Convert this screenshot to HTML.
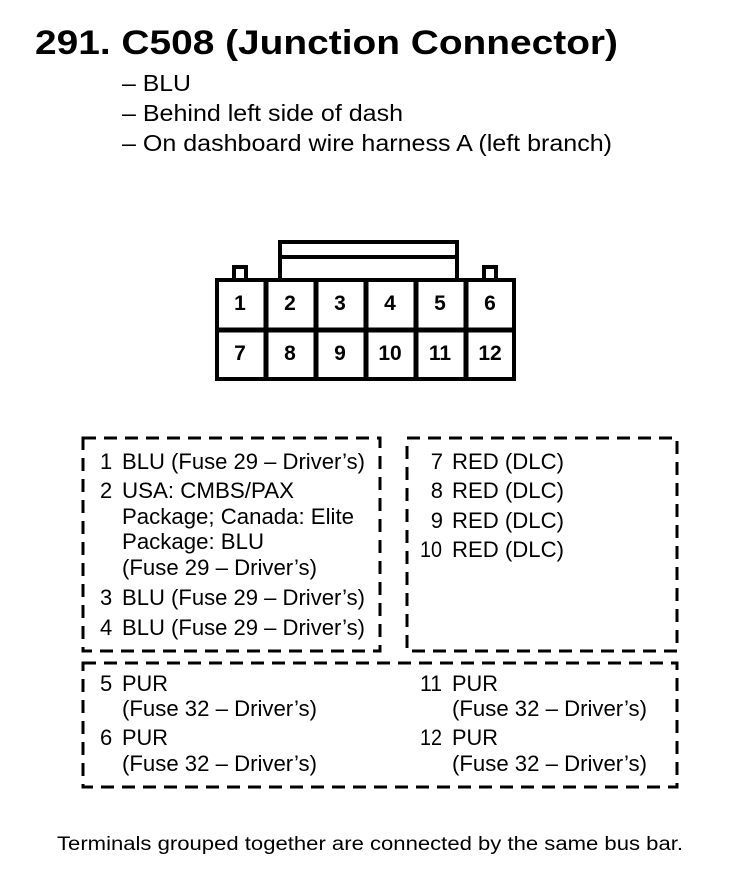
<!DOCTYPE html>
<html><head><meta charset="utf-8"><style>
html,body{margin:0;padding:0;background:#fff;}
svg{display:block;}
text{font-family:"Liberation Sans",Arial,sans-serif;fill:#000;}
</style></head><body>
<svg width="736" height="880" viewBox="0 0 736 880" xmlns="http://www.w3.org/2000/svg">
<text x="35" y="54" font-size="34" font-weight="bold" textLength="583" lengthAdjust="spacingAndGlyphs">291.  C508 (Junction Connector)</text>
<g font-size="23">
<text x="122" y="91" textLength="69" lengthAdjust="spacingAndGlyphs">– BLU</text>
<text x="122" y="121" textLength="281" lengthAdjust="spacingAndGlyphs">– Behind left side of dash</text>
<text x="122" y="151" textLength="490" lengthAdjust="spacingAndGlyphs">– On dashboard wire harness A (left branch)</text>
</g>
<!-- connector -->
<g fill="none" stroke="#000" stroke-width="4">
<rect x="280" y="242" width="177" height="38"/>
<line x1="280" y1="257" x2="457" y2="257"/>
<path d="M217 280 H234 V267 H246 V280"/>
<path d="M484 280 V267 H496 V280 H514"/>
<rect x="217" y="280" width="297" height="99"/>
<line x1="217" y1="330" x2="514" y2="330" stroke-width="5"/>
<line x1="266" y1="280" x2="266" y2="379" stroke-width="5"/>
<line x1="316" y1="280" x2="316" y2="379" stroke-width="5"/>
<line x1="366" y1="280" x2="366" y2="379" stroke-width="5"/>
<line x1="416" y1="280" x2="416" y2="379" stroke-width="5"/>
<line x1="466" y1="280" x2="466" y2="379" stroke-width="5"/>
</g>
<g font-size="21" font-weight="bold" text-anchor="middle">
<text x="240" y="310">1</text><text x="290" y="310">2</text><text x="340" y="310">3</text><text x="390" y="310">4</text><text x="440" y="310">5</text><text x="490" y="310">6</text>
<text x="240" y="360">7</text><text x="290" y="360">8</text><text x="340" y="360">9</text><text x="390" y="360">10</text><text x="440" y="360">11</text><text x="490" y="360">12</text>
</g>
<!-- dashed boxes -->
<g fill="none" stroke="#000" stroke-width="3" stroke-dasharray="13,8">
<rect x="83" y="438" width="297" height="213"/>
<rect x="407" y="438" width="270" height="213"/>
<rect x="83" y="663" width="594" height="124"/>
</g>
<g font-size="22">
<text x="100" y="469">1</text><text x="122" y="469" textLength="243" lengthAdjust="spacingAndGlyphs">BLU (Fuse 29 – Driver’s)</text>
<text x="100" y="498">2</text><text x="122" y="498" textLength="172" lengthAdjust="spacingAndGlyphs">USA: CMBS/PAX</text>
<text x="122" y="524" textLength="232" lengthAdjust="spacingAndGlyphs">Package; Canada: Elite</text>
<text x="122" y="549" textLength="142" lengthAdjust="spacingAndGlyphs">Package: BLU</text>
<text x="122" y="575" textLength="195" lengthAdjust="spacingAndGlyphs">(Fuse 29 – Driver’s)</text>
<text x="100" y="605">3</text><text x="122" y="605" textLength="243" lengthAdjust="spacingAndGlyphs">BLU (Fuse 29 – Driver’s)</text>
<text x="100" y="635">4</text><text x="122" y="635" textLength="243" lengthAdjust="spacingAndGlyphs">BLU (Fuse 29 – Driver’s)</text>
<text x="443" y="469" text-anchor="end">7</text><text x="452" y="469" textLength="112" lengthAdjust="spacingAndGlyphs">RED (DLC)</text>
<text x="443" y="498" text-anchor="end">8</text><text x="452" y="498" textLength="112" lengthAdjust="spacingAndGlyphs">RED (DLC)</text>
<text x="443" y="528" text-anchor="end">9</text><text x="452" y="528" textLength="112" lengthAdjust="spacingAndGlyphs">RED (DLC)</text>
<text x="420" y="557" textLength="22" lengthAdjust="spacingAndGlyphs">10</text><text x="452" y="557" textLength="112" lengthAdjust="spacingAndGlyphs">RED (DLC)</text>
<text x="100" y="691">5</text><text x="122" y="691" textLength="46" lengthAdjust="spacingAndGlyphs">PUR</text>
<text x="122" y="716" textLength="195" lengthAdjust="spacingAndGlyphs">(Fuse 32 – Driver’s)</text>
<text x="100" y="745">6</text><text x="122" y="745" textLength="46" lengthAdjust="spacingAndGlyphs">PUR</text>
<text x="122" y="771" textLength="195" lengthAdjust="spacingAndGlyphs">(Fuse 32 – Driver’s)</text>
<text x="420" y="691" textLength="22" lengthAdjust="spacingAndGlyphs">11</text><text x="452" y="691" textLength="46" lengthAdjust="spacingAndGlyphs">PUR</text>
<text x="452" y="716" textLength="195" lengthAdjust="spacingAndGlyphs">(Fuse 32 – Driver’s)</text>
<text x="420" y="745" textLength="22" lengthAdjust="spacingAndGlyphs">12</text><text x="452" y="745" textLength="46" lengthAdjust="spacingAndGlyphs">PUR</text>
<text x="452" y="771" textLength="195" lengthAdjust="spacingAndGlyphs">(Fuse 32 – Driver’s)</text>
</g>
<text x="57" y="850" font-size="19" textLength="626" lengthAdjust="spacingAndGlyphs">Terminals grouped together are connected by the same bus bar.</text>
</svg>
</body></html>
